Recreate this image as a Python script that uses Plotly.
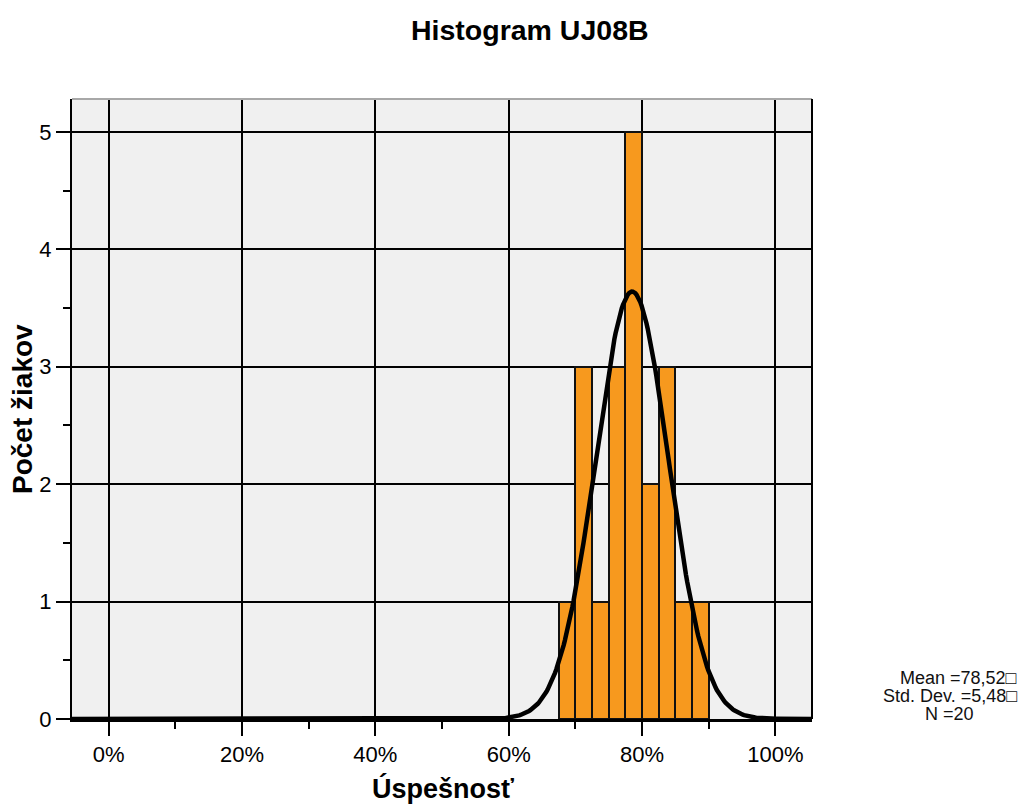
import numpy as np
import plotly.graph_objects as go

bin_left = [67.5, 70.0, 72.5, 75.0, 77.5, 80.0, 82.5, 85.0, 87.5]
counts = [1, 3, 1, 3, 5, 2, 3, 1, 1]
bin_width = 2.5
mean_val = 78.52
std_val = 5.48
n_val = 20
x_ticks = [0, 20, 40, 60, 80, 100]
x_tick_labels = ["0%", "20%", "40%", "60%", "80%", "100%"]
y_ticks = [0, 1, 2, 3, 4, 5]

centers = [b + bin_width / 2 for b in bin_left]

xr = [-5.5, 105.5]
yr = [0, 5.28]

xs = np.linspace(xr[0], xr[1], 600)
ys = n_val * bin_width / (std_val * np.sqrt(2 * np.pi)) * np.exp(-0.5 * ((xs - mean_val) / std_val) ** 2)

# page-pixel -> paper helpers (plot area spans 72..812 x, 98..718 y on the page)
def px(x):
    return (x - 72) / 740


def py(y):
    return (718 - y) / 620


fig = go.Figure()
fig.add_trace(go.Bar(x=centers, y=counts, width=[bin_width] * len(counts),
                     marker=dict(color="#F7991E", line=dict(color="#111111", width=2)),
                     hoverinfo="skip"))
fig.add_trace(go.Scatter(x=xs, y=ys, mode="lines", line=dict(color="black", width=4.5),
                         hoverinfo="skip"))

font = "Arial, Liberation Sans, sans-serif"
stat_lines = [
    ("Mean =" + f"{mean_val:.2f}".replace(".", ",") + "□", 958, 677),
    ("Std. Dev. =" + f"{std_val:.2f}".replace(".", ",") + "□", 950, 695),
    (f"N ={n_val}", 949, 713),
]

annotations = [
    dict(text="<b>Histogram UJ08B</b>", xref="paper", yref="paper",
         x=px(530), y=py(29), xanchor="center", yanchor="middle",
         showarrow=False, font=dict(size=28.5, family=font)),
    dict(text="<b>Úspešnosť</b>", xref="paper", yref="paper",
         x=px(443), y=py(788), xanchor="center", yanchor="middle",
         showarrow=False, font=dict(size=27, family=font)),
    dict(text="<b>Počet žiakov</b>", xref="paper", yref="paper",
         x=px(22), y=py(408), xanchor="center", yanchor="middle", textangle=-90,
         showarrow=False, font=dict(size=28, family=font)),
]
for txt, cx, cy in stat_lines:
    annotations.append(dict(text=txt, xref="paper", yref="paper", x=px(cx), y=py(cy),
                            xanchor="center", yanchor="middle", showarrow=False,
                            font=dict(size=18, family=font, color="#111")))

fig.update_layout(
    width=1025, height=801,
    margin=dict(l=64, r=221, t=91, b=90),
    paper_bgcolor="white", plot_bgcolor="#F0F0F0",
    showlegend=False, bargap=0,
    font=dict(family=font, color="black", size=22),
    xaxis=dict(range=xr, tickvals=x_ticks, ticktext=x_tick_labels, automargin=False,
               showgrid=True, gridcolor="black", gridwidth=1.5,
               ticks="outside", ticklen=14, tickwidth=2, tickcolor="black",
               minor=dict(tickvals=[10, 30, 50, 70, 90], ticks="outside", ticklen=7,
                          tickwidth=1.5, tickcolor="black", showgrid=False),
               showline=True, linecolor="black", linewidth=3,
               zeroline=False, tickfont=dict(size=22, family=font)),
    yaxis=dict(range=yr, tickvals=y_ticks, automargin=False,
               showgrid=True, gridcolor="black", gridwidth=1.5,
               ticks="outside", ticklen=14, tickwidth=2, tickcolor="black",
               minor=dict(tickvals=[0.5, 1.5, 2.5, 3.5, 4.5], ticks="outside", ticklen=7,
                          tickwidth=1.5, tickcolor="black", showgrid=False),
               showline=True, linecolor="black", linewidth=2,
               zeroline=False, tickfont=dict(size=22, family=font)),
    shapes=[
        dict(type="line", xref="paper", yref="paper", x0=0, x1=1, y0=1, y1=1,
             line=dict(color="#A8A8A8", width=2)),
        dict(type="line", xref="paper", yref="paper", x0=1, x1=1, y0=0, y1=1,
             line=dict(color="black", width=2)),
    ],
    annotations=annotations,
)

fig.write_html("out.html")
